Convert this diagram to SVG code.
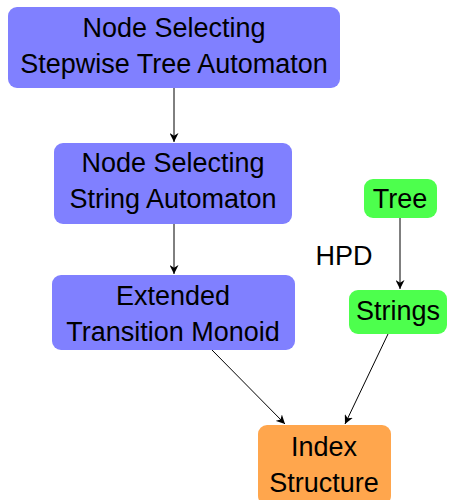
<svg xmlns="http://www.w3.org/2000/svg" width="450" height="500" viewBox="0 0 450 500">
<defs>
<marker id="ah" viewBox="0 0 10 10" refX="10" refY="5" markerWidth="9" markerHeight="9" markerUnits="userSpaceOnUse" orient="auto">
<path d="M0,0 L10,5 L0,10 L3,5 Z" fill="#000"/>
</marker>
</defs>
<style>
text{font-family:"Liberation Sans","DejaVu Sans",sans-serif;font-size:27px;fill:#000;text-anchor:middle}
.blue{fill:#8080ff}
.green{fill:#4dff4d}
.orange{fill:#ffa64d}
.edge{stroke:#000;stroke-width:1;fill:none;marker-end:url(#ah)}
</style>
<g id="connectors">
<line class="edge" x1="174" y1="88" x2="174" y2="142"/>
<line class="edge" x1="174" y1="224" x2="174" y2="274"/>
<line class="edge" x1="400" y1="218" x2="400" y2="289"/>
<line class="edge" x1="212" y1="350" x2="285" y2="424"/>
<line class="edge" x1="388" y1="334" x2="345" y2="424"/>
<text x="344" y="265">HPD</text>
</g>
<g id="n1">
<rect class="blue" x="8" y="7" width="332" height="81" rx="9"/>
<text x="174" y="37">Node Selecting</text>
<text x="174" y="73">Stepwise Tree Automaton</text>
</g>
<g id="n2">
<rect class="blue" x="54" y="143" width="238" height="81" rx="9"/>
<text x="173" y="172">Node Selecting</text>
<text x="173" y="208">String Automaton</text>
</g>
<g id="n3">
<rect class="blue" x="52" y="275" width="243" height="75" rx="9"/>
<text x="173" y="305">Extended</text>
<text x="173" y="341">Transition Monoid</text>
</g>
<g id="tree">
<rect class="green" x="364" y="179" width="73" height="39" rx="9"/>
<text x="400" y="208">Tree</text>
</g>
<g id="strings">
<rect class="green" x="349" y="290" width="98" height="44" rx="9"/>
<text x="398" y="320">Strings</text>
</g>
<g id="index">
<rect class="orange" x="258" y="425" width="133" height="80" rx="9"/>
<text x="324" y="456">Index</text>
<text x="324" y="492">Structure</text>
</g>
</svg>
